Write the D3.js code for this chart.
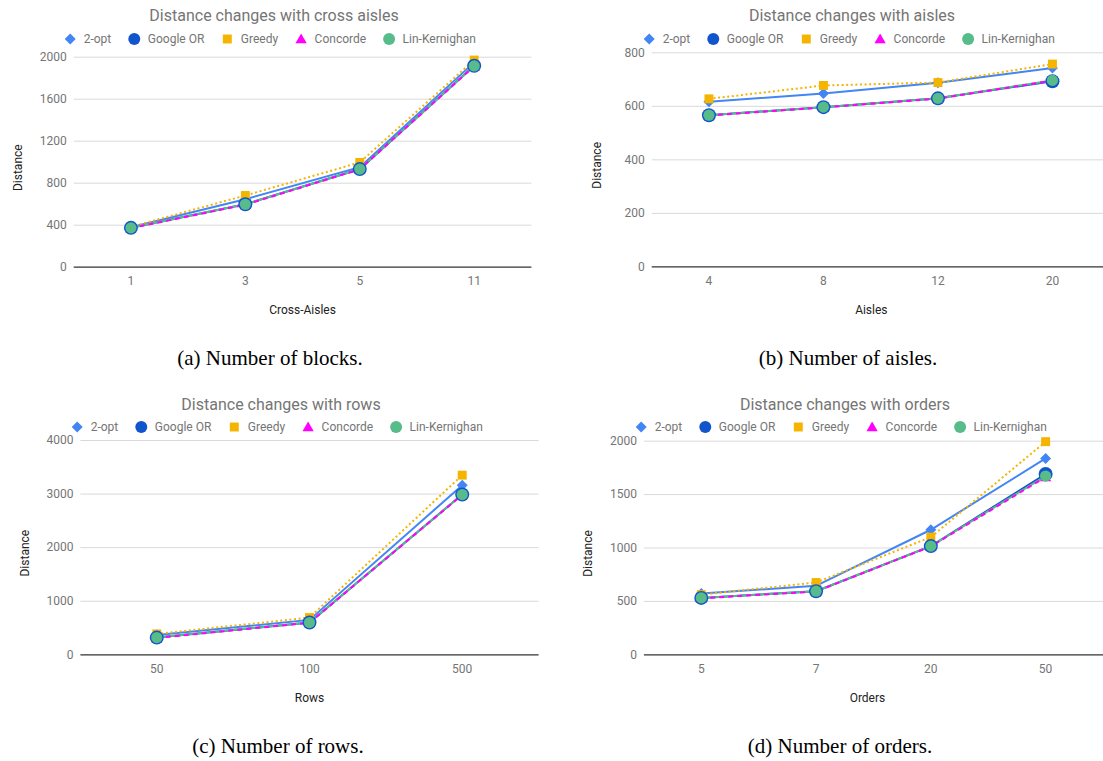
<!DOCTYPE html>
<html>
<head>
<meta charset="utf-8">
<script src="https://cdn.jsdelivr.net/npm/d3@7"></script>
<style>
  body { margin: 0; background: #fff; }
  svg { display: block; }
  text { font-family: Roboto, "Noto Sans", sans-serif; }
</style>
</head>
<body>
<div id="chart"></div>
<script>
var w = 1103;
var h = 761;

// series names and colours
var seriesNames = ['2-opt', 'Google OR', 'Greedy', 'Concorde', 'Lin-Kernighan'];
var seriesColors = ['#4285f4', '#1155cc', '#f4b400', '#ff00ff', '#57bb8a'];

// (a) cross aisles
var blocksX = ['1', '3', '5', '11'];
var blocks2opt = [375, 643, 948, 1946];
var blocksGoogle = [370, 595, 930, 1914];
var blocksGreedy = [380, 678, 993, 1968];
var blocksConcorde = [368, 590, 928, 1910];
var blocksLK = [370, 594, 930, 1912];
var blocksTicks = [0, 400, 800, 1200, 1600, 2000];

// (b) aisles
var aislesX = ['4', '8', '12', '20'];
var aisles2opt = [615, 646, 686, 741];
var aislesGoogle = [565, 595, 628, 692];
var aislesGreedy = [626, 676, 687, 756];
var aislesConcorde = [564, 594, 627, 694];
var aislesLK = [565, 595, 628, 695];
var aislesTicks = [0, 200, 400, 600, 800];

// (c) rows
var rowsX = ['50', '100', '500'];
var rows2opt = [360, 642, 3156];
var rowsGoogle = [312, 593, 2982];
var rowsGreedy = [380, 686, 3344];
var rowsConcorde = [305, 590, 2978];
var rowsLK = [312, 593, 2982];
var rowsTicks = [0, 1000, 2000, 3000, 4000];

// (d) orders
var ordersX = ['5', '7', '20', '50'];
var orders2opt = [569, 641, 1166, 1834];
var ordersGoogle = [528, 591, 1013, 1688];
var ordersGreedy = [559, 672, 1097, 1991];
var ordersConcorde = [525, 588, 1010, 1660];
var ordersLK = [528, 591, 1013, 1669];
var ordersTicks = [0, 500, 1000, 1500, 2000];

var panels = [
  { title: 'Distance changes with cross aisles', xTitle: 'Cross-Aisles', caption: '(a) Number of blocks.',
    cats: blocksX, ticks: blocksTicks,
    values: [blocks2opt, blocksGoogle, blocksGreedy, blocksConcorde, blocksLK],
    left: 73.7, right: 531.4, top: 56.7, bottom: 266.7, titleX: 274, legendX: 270, titleY: 15, legendY: 39,
    yLabelX: 17.5, xTitleY: 310, captionX: 270, captionY: 365 },
  { title: 'Distance changes with aisles', xTitle: 'Aisles', caption: '(b) Number of aisles.',
    cats: aislesX, ticks: aislesTicks,
    values: [aisles2opt, aislesGoogle, aislesGreedy, aislesConcorde, aislesLK],
    left: 651.7, right: 1109.7, top: 52.3, bottom: 266.4, titleX: 852, legendX: 849, titleY: 15, legendY: 39,
    yLabelX: 597, xTitleY: 310, captionX: 848, captionY: 365 },
  { title: 'Distance changes with rows', xTitle: 'Rows', caption: '(c) Number of rows.',
    cats: rowsX, ticks: rowsTicks,
    values: [rows2opt, rowsGoogle, rowsGreedy, rowsConcorde, rowsLK],
    left: 80.4, right: 538.6, top: 440, bottom: 654.3, titleX: 281, legendX: 277, titleY: 404, legendY: 427,
    yLabelX: 24.6, xTitleY: 698, captionX: 278, captionY: 753 },
  { title: 'Distance changes with orders', xTitle: 'Orders', caption: '(d) Number of orders.',
    cats: ordersX, ticks: ordersTicks,
    values: [orders2opt, ordersGoogle, ordersGreedy, ordersConcorde, ordersLK],
    left: 643.9, right: 1103, top: 440.7, bottom: 654.3, titleX: 845, legendX: 841, titleY: 404, legendY: 427,
    yLabelX: 587.7, xTitleY: 698, captionX: 840, captionY: 753 }
];

var svg = d3.select('#chart').append('svg')
  .attr('width', w)
  .attr('height', h);

// marker drawing, used in plots and legends
function drawMarker(g, k, cx, cy, big) {
  var col = seriesColors[k];
  if (k == 0) {
    g.append('path')
      .attr('d', d3.symbol().type(d3.symbolSquare).size(60)())
      .attr('transform', 'translate(' + cx + ',' + cy + ') rotate(45)')
      .attr('fill', col);
  } else if (k == 1) {
    g.append('circle').attr('cx', cx).attr('cy', cy).attr('r', big ? 7 : 6).attr('fill', col);
  } else if (k == 2) {
    g.append('path')
      .attr('d', d3.symbol().type(d3.symbolSquare).size(80)())
      .attr('transform', 'translate(' + cx + ',' + cy + ')')
      .attr('fill', col);
  } else if (k == 3) {
    g.append('path')
      .attr('d', d3.symbol().type(d3.symbolTriangle).size(55)())
      .attr('transform', 'translate(' + cx + ',' + (cy + 1) + ')')
      .attr('fill', col);
  } else {
    g.append('circle').attr('cx', cx).attr('cy', cy).attr('r', big ? 5.6 : 6).attr('fill', col);
  }
}

panels.forEach(function(p) {
  var g = svg.append('g');

  var x = d3.scaleBand().domain(p.cats).range([p.left, p.right]);
  var y = d3.scaleLinear().domain([0, d3.max(p.ticks)]).range([p.bottom, p.top]);

  // gridlines + y labels
  var yAxis = g.append('g')
    .attr('transform', 'translate(' + p.left + ',0)')
    .call(d3.axisLeft(y).tickValues(p.ticks).tickSize(-(p.right - p.left)).tickPadding(7).tickFormat(d3.format('d')));
  yAxis.select('.domain').remove();
  yAxis.selectAll('line')
    .attr('stroke', function(d) { return d == 0 ? '#333333' : '#d9d9d9'; })
    .attr('stroke-width', function(d) { return d == 0 ? 1.3 : 1; });
  yAxis.selectAll('text')
    .attr('fill', '#757575')
    .style('font-size', '12px')
    .style('font-family', 'Roboto');

  // x labels
  var xAxis = g.append('g')
    .attr('transform', 'translate(0,' + p.bottom + ')')
    .call(d3.axisBottom(x).tickSize(0).tickPadding(10));
  xAxis.select('.domain').remove();
  xAxis.selectAll('text')
    .attr('fill', '#757575')
    .style('font-size', '12px')
    .style('font-family', 'Roboto');

  // titles
  g.append('text')
    .attr('x', p.titleX).attr('y', p.titleY)
    .attr('dy', '0.35em')
    .attr('text-anchor', 'middle')
    .attr('fill', '#757575')
    .style('font-size', '16px')
    .text(p.title);

  g.append('text')
    .attr('x', (p.left + Math.min(p.right, w)) / 2 + (p.left > 600 ? -6 : 0))
    .attr('y', p.xTitleY)
    .attr('dy', '0.35em')
    .attr('text-anchor', 'middle')
    .attr('fill', '#222222')
    .style('font-size', '12px')
    .text(p.xTitle);

  g.append('text')
    .attr('transform', 'translate(' + p.yLabelX + ',' + ((p.top + p.bottom) / 2 + 6) + ') rotate(-90)')
    .attr('dy', '0.35em')
    .attr('text-anchor', 'middle')
    .attr('fill', '#222222')
    .style('font-size', '12px')
    .text('Distance');

  // lines, drawn in this order so concorde dashes sit over the green line
  var lineOrder = [1, 0, 2, 4, 3];
  var dashes = ['', '', '2,2.6', '5,4', ''];
  var line = d3.line()
    .x(function(d, i) { return x(p.cats[i]) + x.bandwidth() / 2; })
    .y(function(d) { return y(d); });

  lineOrder.forEach(function(k) {
    g.append('path')
      .datum(p.values[k])
      .attr('d', line)
      .attr('fill', 'none')
      .attr('stroke', seriesColors[k])
      .attr('stroke-width', 2)
      .attr('stroke-dasharray', dashes[k] || null);
  });

  // markers
  var markerOrder = [0, 2, 3, 1, 4];
  markerOrder.forEach(function(k) {
    p.values[k].forEach(function(v, i) {
      drawMarker(g, k, x(p.cats[i]) + x.bandwidth() / 2, y(v), true);
    });
  });

  // legend
  var leg = g.append('g');
  var cx = 0;
  seriesNames.forEach(function(name, k) {
    drawMarker(leg, k, cx, 0, false);
    var t = leg.append('text')
      .attr('x', cx + 13.5)
      .attr('y', 0)
      .attr('dy', '0.35em')
      .attr('fill', '#757575')
      .style('font-size', '12px')
      .text(name);
    cx = cx + 13.5 + t.node().getComputedTextLength() + 23;
  });
  var legW = cx - 23 + 6;
  leg.attr('transform', 'translate(' + (p.legendX - legW / 2 + 6) + ',' + p.legendY + ')');

  // caption under the chart
  svg.append('text')
    .attr('x', p.captionX)
    .attr('y', p.captionY)
    .attr('text-anchor', 'middle')
    .attr('fill', '#000')
    .style('font-family', '"Liberation Serif", "DejaVu Serif", serif')
    .style('font-size', '21px')
    .text(p.caption);
});
</script>
</body>
</html>
